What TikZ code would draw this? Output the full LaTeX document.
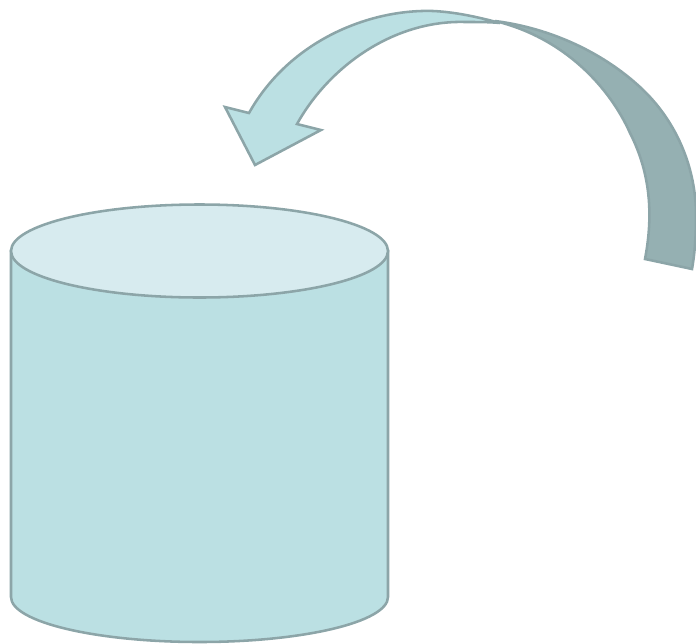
\documentclass[tikz,border=0pt]{standalone}
\definecolor{tealfill}{HTML}{BBE0E3}
\definecolor{tealtop}{HTML}{D7EBEF}
\definecolor{tealdark}{HTML}{95B0B2}
\definecolor{tealline}{HTML}{8CA5A8}
\tikzset{
  shapeline/.style={draw=tealline,line width=1.45pt,line join=miter},
}
\begin{document}
\begin{tikzpicture}[x=0.02cm,y=-0.02cm]
    \useasboundingbox (0,0) rectangle (696,643);
    % cylinder
    \draw[shapeline,fill=tealfill] (11,251) -- (11,597) arc[start angle=180,end angle=360,x radius=188.5,y radius=-45] -- (388,251) -- cycle;
    \draw[shapeline,fill=tealtop] (199.5,251) ellipse (188.5 and 46.5);
    % dark back of the arrow
    \draw[shapeline,fill=tealdark] (495,21) .. controls (550,28) and (602,52) .. (640,87)
      .. controls (678,122) and (696,170) .. (696,215)
      .. controls (696,235) and (695,252) .. (692,269) -- (645,259)
      .. controls (652,222) and (653,178) .. (630,133)
      .. controls (610,88) and (565,38) .. (495,21) -- cycle;
    % light front of the arrow
    \draw[shapeline,fill=tealfill] (500,23) .. controls (478,17) and (455,12) .. (433,11)
      .. controls (370,9) and (290,40) .. (249,113) -- (225,107) -- (255,165) -- (321,130) -- (297,124)
      .. controls (330,65) and (395,20) .. (465,22) .. controls (478,22) and (490,22) .. (500,23) -- cycle;
  \end{tikzpicture}
\end{document}
